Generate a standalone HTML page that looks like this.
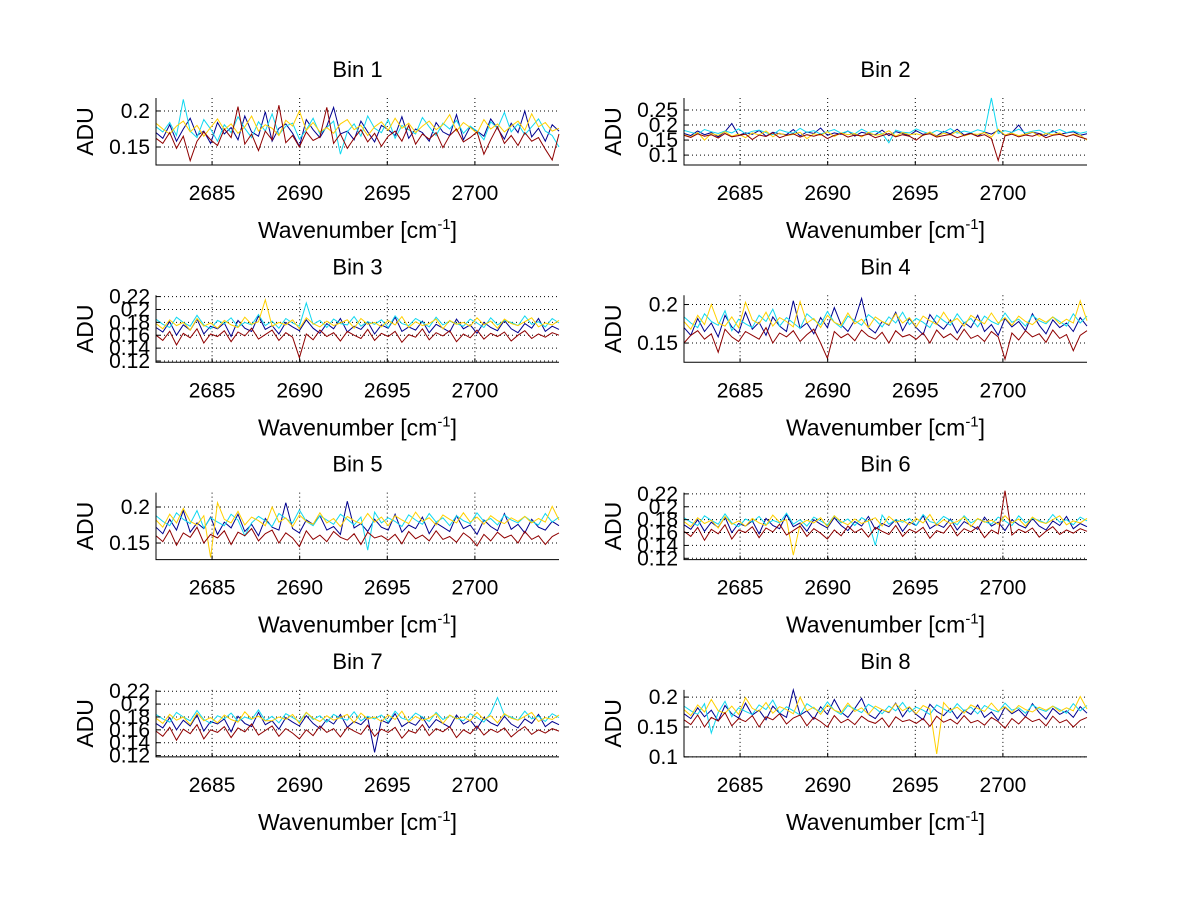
<!DOCTYPE html>
<html><head><meta charset="utf-8"><style>
html,body{margin:0;padding:0;background:#fff;}
svg{display:block;font-family:"Liberation Sans",sans-serif;}
</style></head><body>
<svg id="fig" width="1200" height="901" viewBox="0 0 1200 901"></svg>
<script>
const xTicks = [2685, 2690, 2695, 2700];
const xMin = 2681.8, xMax = 2704.8;
const binTitles = ["Bin 1","Bin 2","Bin 3","Bin 4","Bin 5","Bin 6","Bin 7","Bin 8"];
const yLims = [[0.125,0.218],[0.067,0.29],[0.118,0.222],[0.125,0.212],[0.127,0.22],[0.118,0.222],[0.118,0.222],[0.1,0.212]];
const yTicks = [[0.15,0.2],[0.1,0.15,0.2,0.25],[0.12,0.14,0.16,0.18,0.2,0.22],[0.15,0.2],[0.15,0.2],[0.12,0.14,0.16,0.18,0.2,0.22],[0.12,0.14,0.16,0.18,0.2,0.22],[0.1,0.15,0.2]];
const yTickLabels = [["0.15","0.2"],["0.1","0.15","0.2","0.25"],["0.12","0.14","0.16","0.18","0.2","0.22"],["0.15","0.2"],["0.15","0.2"],["0.12","0.14","0.16","0.18","0.2","0.22"],["0.12","0.14","0.16","0.18","0.2","0.22"],["0.1","0.15","0.2"]];
const seriesColors = ["#00008f","#10d8f0","#ffd000","#8f0000"];
const bin1Blue = [170,162,181,158,175,190,166,172,155,184,168,177,160,193,171,165,199,158,176,182,169,151,188,174,163,179,205,168,172,160,186,171,157,180,174,166,192,162,175,170,158,184,171,166,195,160,178,172,165,189,176,161,183,170,200,164,176,158,181,172];
const bin1Cyan = [178,171,184,166,216,172,163,188,175,158,181,170,192,176,163,185,172,196,167,179,183,161,174,190,168,177,186,140,171,182,165,193,176,170,188,162,180,174,168,191,178,166,183,175,187,169,179,172,160,185,176,198,171,182,167,178,189,172,166,150];
const bin1Yel = [183,175,168,179,186,171,180,165,177,189,174,182,169,178,193,172,181,176,166,187,179,200,173,184,171,177,169,182,188,174,180,166,178,185,173,190,176,183,170,179,186,174,181,195,172,184,177,169,188,175,182,171,179,186,173,196,178,184,172,176];
const bin1Red = [162,155,170,148,165,131,158,171,160,152,175,163,206,154,168,145,172,160,208,156,166,150,171,159,164,205,155,168,148,162,174,157,169,151,165,172,158,180,154,168,161,170,149,166,175,157,163,171,140,160,178,155,166,152,170,158,163,147,132,168];
const bin2Blue = [172,165,180,168,175,161,178,205,166,174,169,182,163,176,171,168,185,164,177,172,190,166,174,169,180,163,176,171,168,183,165,178,172,166,181,169,175,164,179,171,186,167,174,163,177,170,182,166,175,200,168,176,172,165,181,169,174,178,166,171];
const bin2Cyan = [182,176,170,185,178,172,180,174,187,171,179,183,175,168,184,177,173,189,176,181,170,178,185,173,179,171,186,175,180,172,141,183,176,174,187,178,171,182,176,188,173,180,175,184,178,290,172,181,176,186,174,179,183,172,177,185,175,180,173,178];
const bin2Yel = [168,160,175,150,172,166,178,163,170,158,174,167,180,161,173,165,169,176,155,171,166,178,162,174,168,172,160,176,166,170,181,163,175,168,171,165,177,162,173,167,179,164,171,169,175,160,186,167,173,165,170,177,163,172,168,174,161,170,166,150];
const bin2Red = [166,159,171,163,168,157,172,161,165,170,152,167,162,174,158,166,171,160,168,163,170,155,166,172,160,167,164,170,158,165,172,161,168,163,150,167,171,160,165,169,158,166,172,162,168,155,82,164,170,161,167,163,171,158,166,169,162,168,160,153];
const bin3Blue = [172,165,181,160,176,168,185,162,174,170,179,158,183,171,166,190,169,175,162,180,173,167,184,171,163,178,170,186,165,174,169,181,162,176,171,188,166,173,168,182,164,177,171,165,185,170,176,163,180,172,167,183,170,164,178,171,186,166,174,169];
const bin3Cyan = [185,177,172,188,180,174,191,176,170,183,178,187,173,180,176,192,175,182,171,186,179,174,210,177,183,172,185,178,176,189,174,181,177,184,172,190,178,175,186,180,173,188,176,182,178,174,185,179,172,187,176,183,180,175,190,177,181,173,186,179];
const bin3Yel = [178,170,184,175,180,168,186,174,179,171,183,176,172,188,177,181,215,174,180,176,184,170,187,178,173,182,175,179,184,171,186,177,180,173,183,176,189,172,181,175,178,185,170,183,177,180,174,187,176,182,171,185,178,175,181,187,173,179,176,183];
const bin3Red = [160,152,166,145,163,156,170,148,162,158,167,150,165,159,171,154,161,168,152,164,157,125,162,153,168,158,164,151,166,160,155,169,152,163,158,166,149,161,157,170,153,164,159,167,150,162,156,168,154,163,158,165,151,160,167,155,162,157,164,160];
const bin4Blue = [170,160,182,165,176,158,186,171,163,190,168,177,160,184,172,165,205,169,176,162,183,170,196,174,165,180,208,170,163,178,173,190,166,182,170,161,187,175,168,180,163,177,170,186,165,174,160,182,171,178,166,188,173,162,180,170,176,165,183,172];
const bin4Cyan = [184,176,170,188,178,173,192,166,181,175,170,186,178,194,172,183,176,169,188,180,174,191,177,170,185,179,173,187,180,171,184,176,190,174,182,177,170,186,179,173,188,176,182,171,185,178,174,189,177,181,172,186,179,175,184,178,172,188,176,185];
const bin4Yel = [178,168,186,174,200,176,172,184,170,203,180,175,190,172,183,178,171,204,176,182,170,186,177,173,189,175,181,170,184,178,174,188,176,183,171,185,179,174,190,177,182,172,186,180,175,189,176,183,173,185,178,174,182,177,184,175,181,176,205,179];
const bin4Red = [150,160,166,155,162,138,168,158,152,165,160,155,170,150,163,158,166,152,161,168,150,130,165,157,162,153,167,159,155,164,150,166,158,161,155,163,150,167,157,162,154,168,156,160,152,165,158,129,163,154,166,158,162,151,167,156,161,140,160,166];
const bin5Blue = [172,163,183,168,195,165,178,170,186,162,179,171,190,166,176,160,184,172,168,206,170,164,182,176,188,168,173,162,208,171,177,166,183,172,168,190,165,175,170,186,163,178,172,166,188,170,175,162,182,173,167,191,169,176,164,183,172,168,180,174];
const bin5Cyan = [188,180,174,192,183,177,195,171,185,179,174,190,182,160,178,187,181,173,191,184,178,196,180,174,188,182,176,190,183,175,186,140,193,178,185,180,173,189,182,176,191,179,185,174,188,181,177,192,180,184,175,189,182,178,187,180,175,191,179,186];
const bin5Yel = [182,172,190,178,198,180,175,188,130,206,183,178,194,175,186,181,174,200,179,185,173,189,180,176,192,178,184,173,187,181,177,191,179,186,174,188,182,177,193,180,185,175,189,183,178,192,179,186,176,188,181,177,185,180,187,178,184,179,201,182];
const bin5Red = [160,152,168,147,164,158,172,150,162,157,167,148,165,160,170,153,163,168,150,164,157,145,167,155,161,152,166,158,154,163,148,165,157,160,154,162,149,166,156,161,153,167,155,159,151,164,157,146,162,153,165,157,161,150,166,155,160,148,159,164];
const bin6Blue = [172,165,180,162,176,168,184,160,174,170,178,158,182,171,166,188,169,175,162,180,173,167,183,171,163,177,170,185,165,174,169,180,162,176,171,186,166,173,168,181,164,177,171,165,184,170,176,163,180,172,167,182,170,164,178,171,185,166,174,169];
const bin6Cyan = [183,176,171,186,179,173,189,175,169,181,176,185,172,179,175,190,173,180,170,184,178,172,186,175,181,171,183,177,140,187,173,180,176,182,171,188,177,174,185,179,172,186,175,181,177,173,184,178,171,186,175,182,179,174,188,176,180,172,184,178];
const bin6Yel = [177,169,183,174,179,167,185,173,178,170,182,175,171,187,176,180,125,173,179,175,183,169,186,177,172,181,174,178,183,170,185,176,179,172,182,175,188,171,180,174,177,184,169,182,176,179,173,186,175,181,170,184,177,174,180,186,172,178,175,182];
const bin6Red = [162,154,168,148,165,158,172,150,164,160,169,152,167,161,173,156,163,170,154,166,159,150,164,155,170,160,166,153,168,162,157,171,154,165,160,168,151,163,159,172,155,166,161,169,152,164,158,225,156,165,160,167,153,162,169,157,164,159,166,162];
const bin7Blue = [170,163,179,160,175,166,183,158,173,169,177,157,181,170,165,187,168,174,161,179,172,166,182,170,162,176,169,184,164,173,168,179,125,175,170,185,165,172,167,180,163,176,170,164,183,169,175,162,179,171,166,181,169,163,177,170,184,165,173,168];
const bin7Cyan = [184,177,172,187,180,174,190,176,170,182,177,186,173,180,176,191,174,181,171,185,179,173,187,176,182,172,184,178,175,188,174,181,177,183,172,189,178,175,186,180,173,187,176,182,178,174,185,179,172,186,210,183,180,175,189,177,181,173,185,179];
const bin7Yel = [178,170,184,175,180,168,186,174,179,171,183,176,172,188,177,181,174,174,180,176,184,170,187,178,173,182,175,179,184,171,186,177,180,173,183,176,189,172,181,175,178,185,170,183,177,180,174,187,176,182,171,185,178,175,181,187,173,179,176,183];
const bin7Red = [158,150,164,144,161,154,168,146,160,156,165,148,163,157,169,152,159,166,150,162,155,146,160,151,166,156,162,149,164,158,153,167,150,161,156,164,147,159,155,168,151,162,157,165,148,160,154,166,152,161,156,163,149,158,165,153,160,155,162,158];
const bin8Blue = [172,164,182,167,178,160,186,172,165,190,170,178,162,185,173,166,212,170,177,163,184,171,196,175,166,181,198,171,164,179,174,190,167,183,171,162,188,176,169,181,164,178,171,187,166,175,161,183,172,179,167,189,174,163,181,171,177,166,184,173];
const bin8Cyan = [185,177,171,189,140,174,193,167,182,176,171,187,179,195,173,184,177,170,189,181,175,192,178,171,186,180,174,188,181,172,185,177,191,175,183,178,171,187,180,174,189,177,183,172,186,179,175,190,178,182,173,187,180,176,185,179,173,189,177,186];
const bin8Yel = [179,169,187,175,196,177,173,185,171,199,181,176,191,173,184,179,172,200,177,183,171,187,178,174,190,176,182,171,185,179,175,189,177,184,172,186,180,105,191,178,183,173,187,181,176,190,177,184,174,186,179,175,183,178,185,176,182,177,201,180];
const bin8Red = [162,154,170,150,166,160,174,152,164,159,169,150,167,162,172,155,165,170,152,166,159,150,169,157,163,154,168,160,156,165,150,167,159,162,156,164,151,168,158,163,155,169,157,161,153,166,159,148,164,155,167,159,163,152,168,157,162,150,161,166];
const binSeries = [
  [bin1Blue,bin1Cyan,bin1Yel,bin1Red],[bin2Blue,bin2Cyan,bin2Yel,bin2Red],
  [bin3Blue,bin3Cyan,bin3Yel,bin3Red],[bin4Blue,bin4Cyan,bin4Yel,bin4Red],
  [bin5Blue,bin5Cyan,bin5Yel,bin5Red],[bin6Blue,bin6Cyan,bin6Yel,bin6Red],
  [bin7Blue,bin7Cyan,bin7Yel,bin7Red],[bin8Blue,bin8Cyan,bin8Yel,bin8Red]
];
const seriesNames = ["blue","cyan","yellow","red"];

const NS = "http://www.w3.org/2000/svg";
const svg = document.getElementById("fig");
function mk(tag, attrs, parent){ const e=document.createElementNS(NS,tag); for(const k in attrs) e.setAttribute(k,attrs[k]); (parent||svg).appendChild(e); return e; }

for (let b=0;b<8;b++){
  const col=b%2, row=Math.floor(b/2);
  const L = col===0?156:684, R = L+403;
  const T = 98 + row*197.3, B = T+67;
  const [y0,y1] = yLims[b];
  const xs = v => L + (v-xMin)/(xMax-xMin)*(R-L);
  const ys = v => B - (v-y0)/(y1-y0)*(B-T);
  const g = mk("g",{});
  
  
  xTicks.forEach(t=>{
    const l=mk("line",{x1:xs(t),x2:xs(t),y1:T,y2:B,stroke:"#000","stroke-width":1,"stroke-dasharray":"1,3"},g);
    
    
  });
  yTicks[b].forEach(t=>{
    const l=mk("line",{x1:L,x2:R,y1:ys(t),y2:ys(t),stroke:"#000","stroke-width":1,"stroke-dasharray":"1,3"},g);
    
    
  });
  binSeries[b].forEach((arr,si)=>{
    const n=arr.length;
    const pts=arr.map((v,i)=>xs(xMin+(xMax-xMin)*i/(n-1)).toFixed(1)+","+ys(v/1000).toFixed(1)).join(" ");
    const p=mk("polyline",{points:pts,fill:"none",stroke:seriesColors[si],"stroke-width":1},g);
    
    
  });
  const ax=mk("path",{d:`M${L},${T}V${B}H${R}`,fill:"none",stroke:"#000","stroke-width":1},g);
  
  
  xTicks.forEach(t=>{
    mk("line",{x1:xs(t),x2:xs(t),y1:B,y2:B-4,stroke:"#000"},g);
    const tx=mk("text",{x:xs(t),y:B+35,"font-size":21,"text-anchor":"middle"},g);
    tx.textContent=String(t);
    
    
  });
  yTicks[b].forEach((t,i)=>{
    mk("line",{x1:L,x2:L+4,y1:ys(t),y2:ys(t),stroke:"#000"},g);
    const tx=mk("text",{x:L-6,y:ys(t)+7,"font-size":21,"text-anchor":"end"},g);
    tx.textContent=yTickLabels[b][i];
    
    
  });
  const tt=mk("text",{x:(L+R)/2,y:T-21,"font-size":22,"text-anchor":"middle"},g);
  tt.textContent=binTitles[b];
  
  
  const xl=mk("text",{x:(L+R)/2,y:B+73,"font-size":23,"text-anchor":"middle"},g);
  xl.innerHTML='Wavenumber [cm<tspan dy="-9" font-size="15">-1</tspan><tspan dy="9">]</tspan>';
  
  
  const cy=(T+B)/2, cx=L-63;
  const yl=mk("text",{x:cx,y:cy,"font-size":23,"text-anchor":"middle",transform:`rotate(-90 ${cx} ${cy})`},g);
  yl.textContent="ADU";
  
  
}
</script>
</body></html>
